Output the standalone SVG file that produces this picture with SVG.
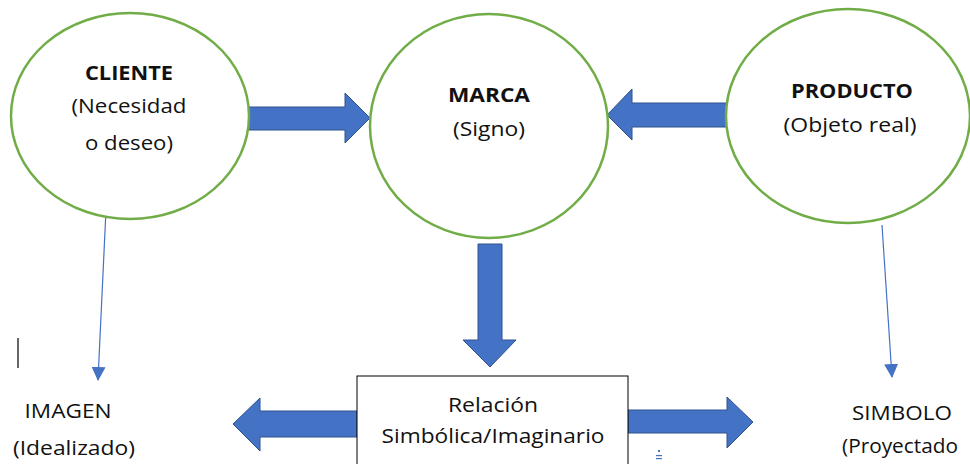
<svg xmlns="http://www.w3.org/2000/svg" width="970" height="464" viewBox="0 0 970 464">
<style>
.ell{fill:#fff;stroke:#70AD47;stroke-width:2.5}
.big{fill:#4472C4;stroke:#2F528F;stroke-width:1}
.thin{stroke:#4472C4;stroke-width:1.2;fill:none}
.t{font-family:"Open Sans","Liberation Sans",sans-serif;font-size:20px;fill:#111;text-anchor:middle}
.b{font-weight:bold}
</style>
<defs>
<marker id="ah" markerWidth="14" markerHeight="14" refX="13" refY="7" orient="auto" markerUnits="userSpaceOnUse">
<path d="M0,0 L14,7 L0,14 Z" fill="#4472C4"/>
</marker>
</defs>
<rect width="970" height="464" fill="#fff"/>
<g id="connectors">
<path class="big" d="M247,107 L345,107 L345,93 L370,118 L345,143 L345,130 L247,130 Z"/>
<path class="big" d="M730,103 L632,103 L632,89 L607,115 L632,140 L632,127 L730,127 Z"/>
<path class="big" d="M478,244 L502,244 L502,340 L516,340 L490,367 L463,340 L478,340 Z"/>
<path class="big" d="M357,411 L260,411 L260,398 L233,424 L260,451 L260,437 L357,437 Z"/>
<path class="big" d="M628,410 L727,410 L727,397 L753,422 L727,448 L727,433 L628,433 Z"/>
<line class="thin" x1="106" y1="210" x2="98" y2="380" marker-end="url(#ah)"/>
<line class="thin" x1="882" y1="225" x2="892" y2="377" marker-end="url(#ah)"/>
</g>
<g id="cliente">
<ellipse class="ell" cx="130" cy="116" rx="119" ry="103"/>
<text class="t b" x="129" y="80" textLength="88" lengthAdjust="spacingAndGlyphs">CLIENTE</text>
<text class="t" x="129" y="113" textLength="115" lengthAdjust="spacingAndGlyphs">(Necesidad</text>
<text class="t" x="129" y="150" textLength="88" lengthAdjust="spacingAndGlyphs">o deseo)</text>
</g>
<g id="marca">
<ellipse class="ell" cx="489" cy="126" rx="119" ry="112"/>
<text class="t b" x="489" y="102" textLength="82" lengthAdjust="spacingAndGlyphs">MARCA</text>
<text class="t" x="489" y="136" textLength="72" lengthAdjust="spacingAndGlyphs">(Signo)</text>
</g>
<g id="producto">
<ellipse class="ell" cx="848" cy="116" rx="122" ry="107"/>
<text class="t b" x="852" y="98" textLength="122" lengthAdjust="spacingAndGlyphs">PRODUCTO</text>
<text class="t" x="850" y="132" textLength="133" lengthAdjust="spacingAndGlyphs">(Objeto real)</text>
</g>
<g id="relacion">
<rect x="357" y="376" width="271" height="100" fill="#fff" stroke="#000" stroke-width="1"/>
<text class="t" x="493" y="412" textLength="90" lengthAdjust="spacingAndGlyphs">Relación</text>
<text class="t" x="493" y="443" textLength="223" lengthAdjust="spacingAndGlyphs">Simbólica/Imaginario</text>
</g>
<g id="imagen">
<text class="t" x="68" y="418" textLength="87" lengthAdjust="spacingAndGlyphs">IMAGEN</text>
<text class="t" x="74" y="455" textLength="122" lengthAdjust="spacingAndGlyphs">(Idealizado)</text>
</g>
<g id="simbolo">
<text class="t" x="902" y="420" textLength="100" lengthAdjust="spacingAndGlyphs">SIMBOLO</text>
<text class="t" x="900" y="453" textLength="116" lengthAdjust="spacingAndGlyphs">(Proyectado</text>
</g>
<line x1="18" y1="338" x2="18" y2="368" stroke="#000" stroke-width="1.2"/>
<g fill="#4472C4">
<rect x="658" y="450" width="2" height="2"/>
<rect x="656" y="455" width="6" height="1.2"/>
<rect x="656" y="458" width="6" height="1.2"/>
</g>
</svg>
